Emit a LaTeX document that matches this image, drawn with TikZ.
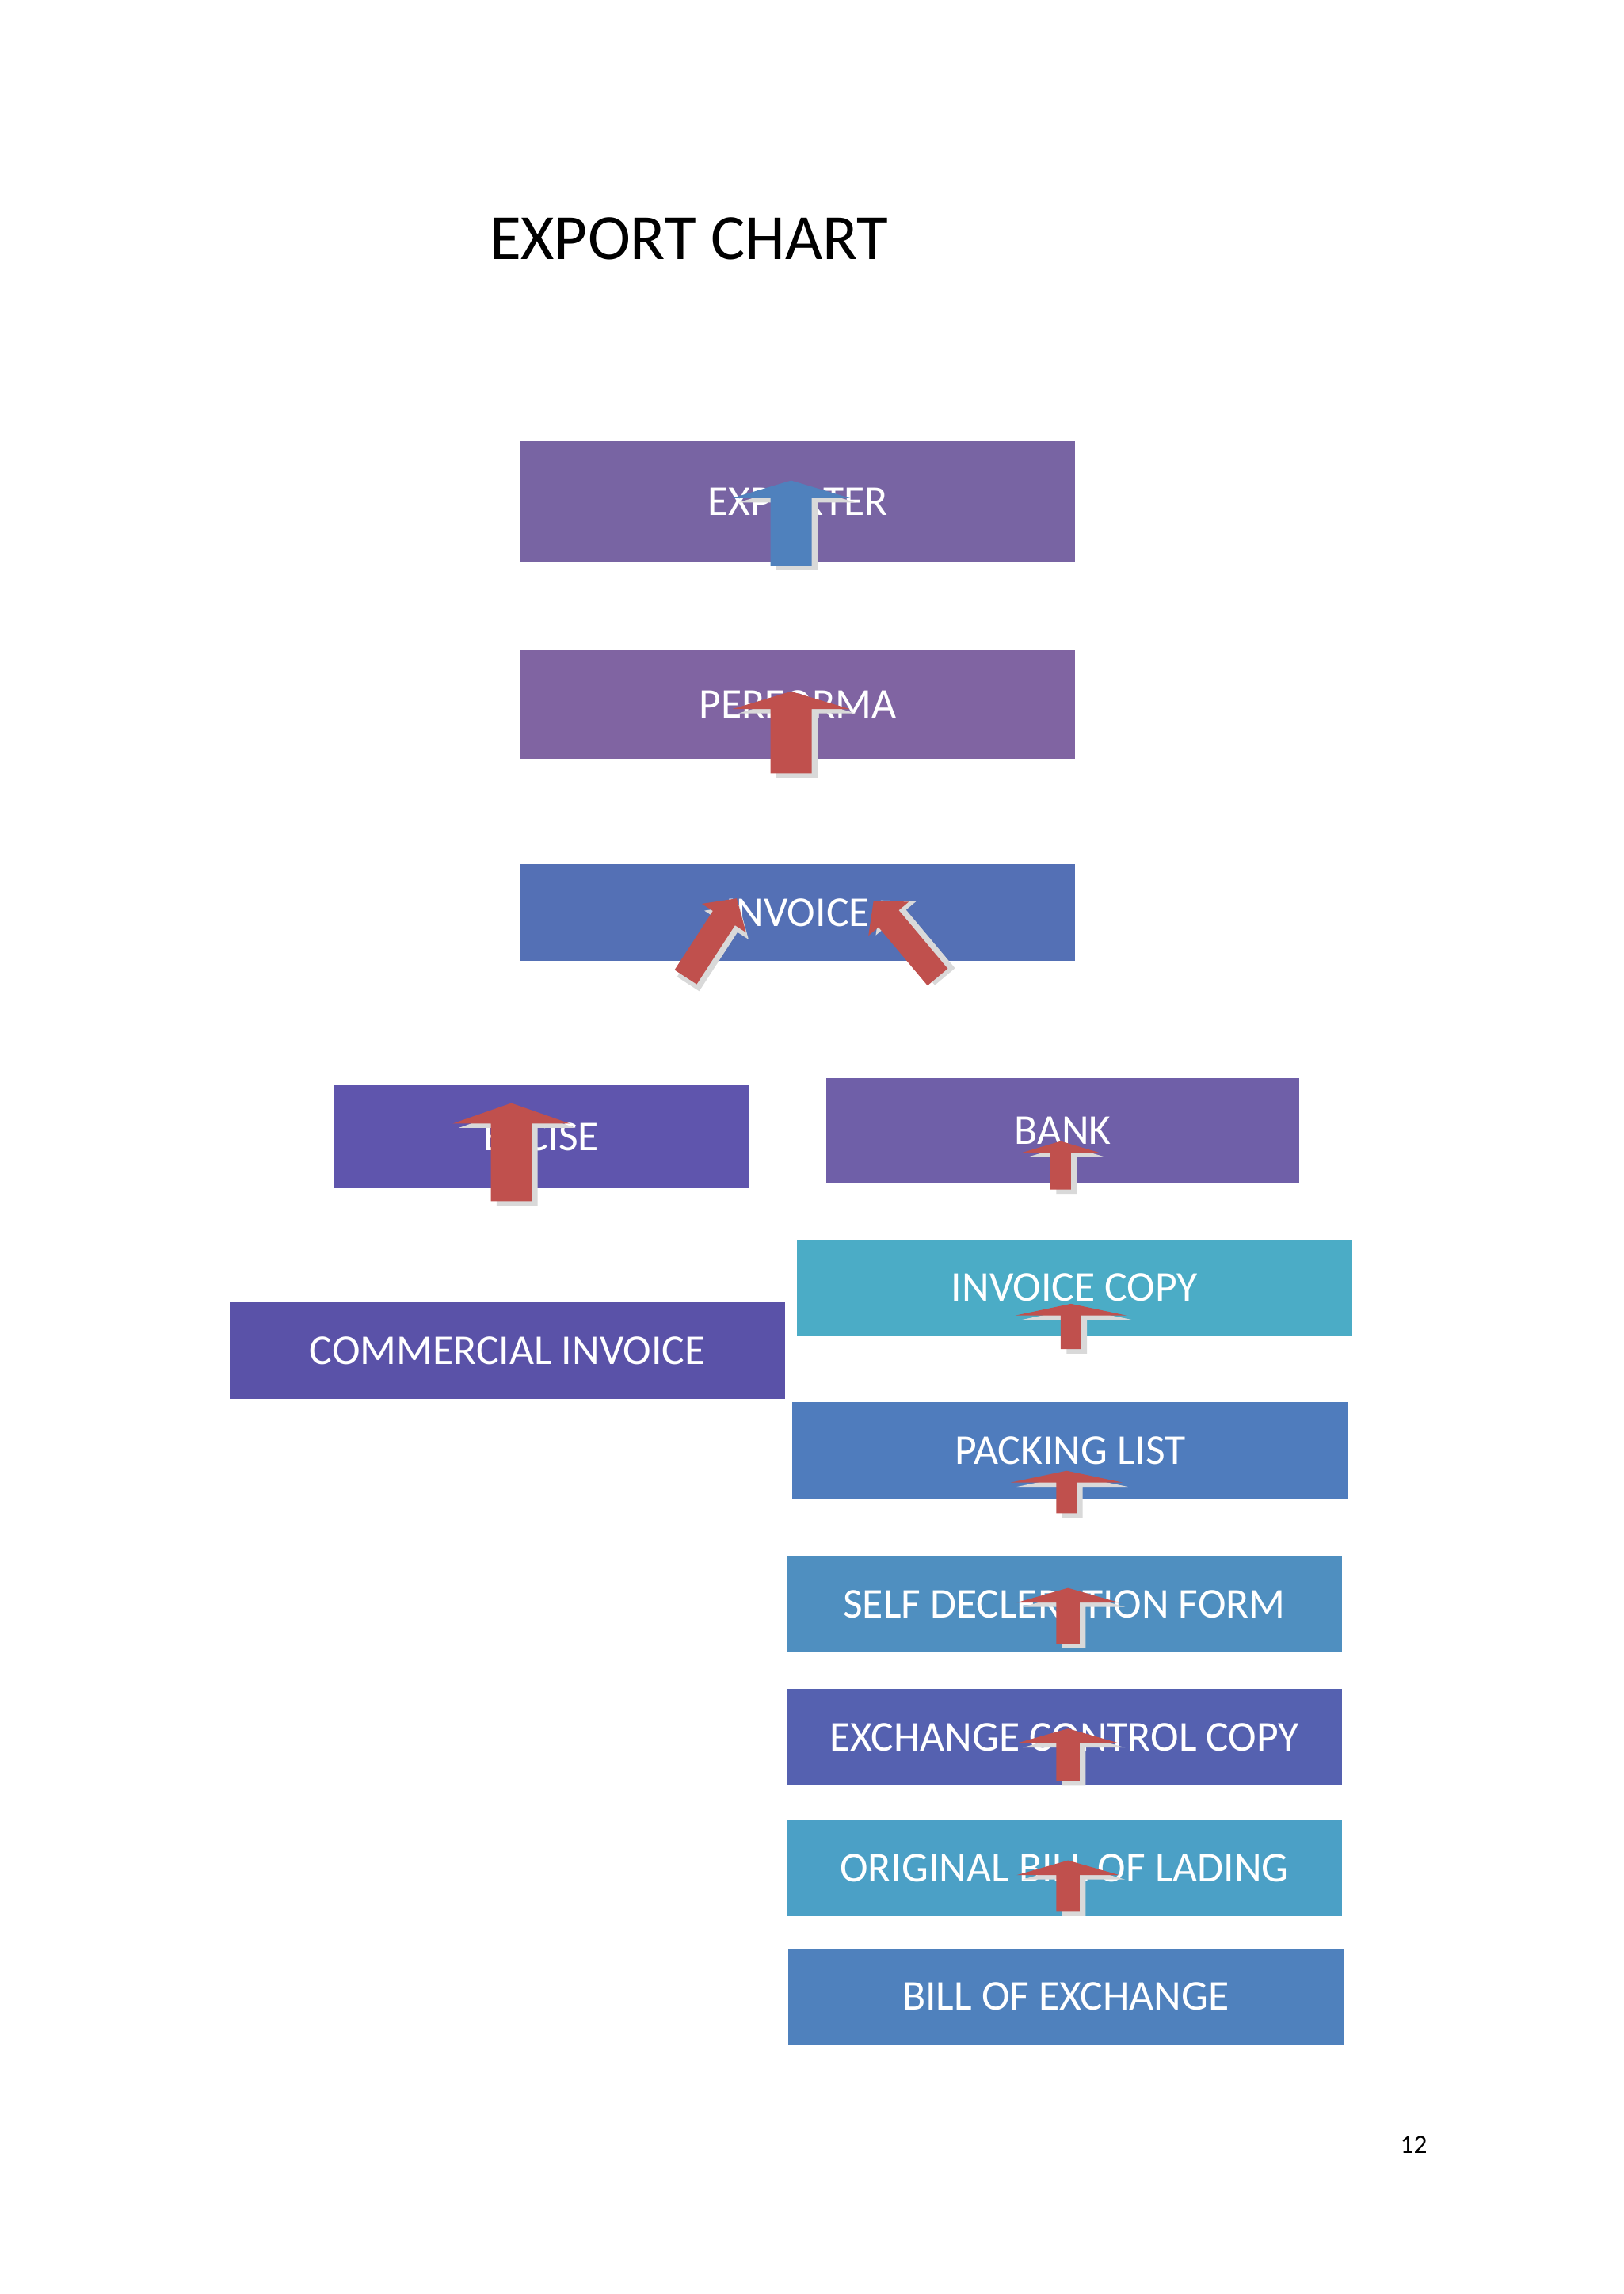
\documentclass[tikz,border=0pt]{standalone}
\usepackage{fontspec}
\setmainfont{Carlito}
\definecolor{aRed}{HTML}{C0504D}
\definecolor{aBlue}{HTML}{4F81BD}
\definecolor{cA}{HTML}{7864A3}
\definecolor{cB}{HTML}{8064A2}
\definecolor{cC}{HTML}{5470B5}
\definecolor{cD}{HTML}{5F55AD}
\definecolor{cE}{HTML}{6F5FA8}
\definecolor{cF}{HTML}{5A52A8}
\definecolor{cG}{HTML}{4BACC6}
\definecolor{cH}{HTML}{4F7CBD}
\definecolor{cI}{HTML}{4F8FC0}
\definecolor{cJ}{HTML}{5561B0}
\definecolor{cK}{HTML}{4BA0C6}
\definecolor{cL}{HTML}{4F81BD}
\tikzset{
  boxst/.style={inner sep=0pt, text=white, font=\fontsize{29}{32}\selectfont},
}
% #1 start coord, #2 angle, #3 length, #4 shaft, #5 head width, #6 head h, #7 color
\newcommand\blkarrow[7]{%
  \begin{scope}[shift={#1}, rotate=#2]
    \fill[gray!30] (-#4/2+4,3) -- (#4/2+4,3) -- (#4/2+4,-#3+#6+3) -- (#5/2+4,-#3+#6+3) -- (0+4,-#3+3) -- (-#5/2+4,-#3+#6+3) -- (-#4/2+4,-#3+#6+3) -- cycle;
    \fill[#7] (-#4/2,0) -- (#4/2,0) -- (#4/2,-#3+#6) -- (#5/2,-#3+#6) -- (0,-#3) -- (-#5/2,-#3+#6) -- (-#4/2,-#3+#6) -- cycle;
  \end{scope}}
\begin{document}
\begin{tikzpicture}[x=1pt,y=-1pt]
\useasboundingbox[fill=white] (0,0) rectangle (1108,1566);
\node[anchor=base west, font=\fontsize{44}{48}\selectfont, inner sep=0] (title) at (334,177) {EXPORT CHART};
\node[anchor=base, font=\fontsize{18}{20}\selectfont, inner sep=0] (pg) at (965,1470) {12};
\newcommand\bx[6]{\fill[#6] (#2,#3) rectangle (#4,#5); \node[boxst] (#1) at ({(#2+#4)/2},{(#3+#5)/2}) {\strut\MakeUppercase{\the\toks0}};}
\def\B#1#2#3#4#5#6#7{\fill[#6] (#2,#3) rectangle (#4,#5); \node[boxst, minimum width={#4-#2}, minimum height={#5-#3}] (#1) at ({(#2+#4)/2},{(#3+#5)/2}) {#7};}
\B{exp}{355}{301}{734}{384}{cA}{EXPORTER}
\B{perf}{355}{444}{734}{518}{cB}{PERFORMA}
\B{inv}{355}{590}{734}{656}{cC}{INVOICE}
\B{exc}{228}{741}{511}{811}{cD}{EXCISE}
\B{bank}{564}{736}{887}{808}{cE}{BANK}
\B{com}{157}{889}{536}{955}{cF}{COMMERCIAL INVOICE}
\B{ic}{544}{846}{923}{912}{cG}{INVOICE COPY}
\B{pl}{541}{957}{920}{1023}{cH}{PACKING LIST}
\B{sd}{537}{1062}{916}{1128}{cI}{SELF DECLERATION FORM}
\B{ecc}{537}{1153}{916}{1219}{cJ}{EXCHANGE CONTROL COPY}
\B{obl}{537}{1242}{916}{1308}{cK}{ORIGINAL BILL OF LADING}
\B{boe}{538}{1330}{917}{1396}{cL}{BILL OF EXCHANGE}
\blkarrow{(540,386)}{0}{58}{28}{80}{12}{aBlue}
\blkarrow{(540,528)}{0}{56}{28}{80}{12}{aRed}
\blkarrow{(468,667)}{-33}{64}{18}{36}{16}{aRed}
\blkarrow{(640,667)}{40}{68}{18}{36}{16}{aRed}
\blkarrow{(349,820)}{0}{67}{28}{80}{14}{aRed}
\blkarrow{(724,812)}{0}{33}{14}{54}{8}{aRed}
\blkarrow{(731,921)}{0}{31}{14}{76}{8}{aRed}
\blkarrow{(728,1033)}{0}{29}{14}{76}{8}{aRed}
\blkarrow{(729,1122)}{0}{38}{16}{70}{10}{aRed}
\blkarrow{(729,1216)}{0}{36}{16}{70}{10}{aRed}
\blkarrow{(729,1305)}{0}{35}{16}{70}{10}{aRed}
\end{tikzpicture}
\end{document}
